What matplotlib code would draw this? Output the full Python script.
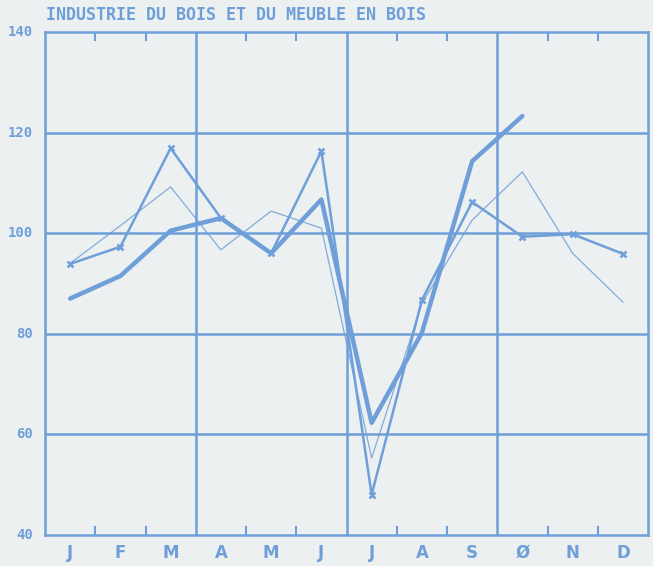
import matplotlib
matplotlib.use("Agg")
from matplotlib import pyplot as plt

# Monthly index values.
months = ["J", "F", "M", "A", "M", "J", "J", "A", "S", "Ø", "N", "D"]
current_year = [87, 91.5, 100.5, 103, 96, 106.7, 62.3, 80.2, 114.3, 123.3]
previous_year = [93.9, 97.3, 116.9, 103, 96, 116.3, 48, 86.7, 106.2, 99.3, 99.8, 95.9]
older_year = [94, 101.5, 109.2, 96.7, 104.4, 101, 55.3, 86, 102.6, 112.2, 96, 86.3]
y_ticks = [40, 60, 80, 100, 120, 140]
title = "INDUSTRIE DU BOIS ET DU MEUBLE EN BOIS"

BLUE = "#6e9fd9"
PAPER = "#edf0f1"
MONO = "DejaVu Sans Mono"

fig = plt.figure(figsize=(6.53, 5.66), dpi=100)
fig.patch.set_facecolor(PAPER)
ax = fig.add_axes([45 / 653, 31 / 566, 603 / 653, 503 / 566])
ax.set_facecolor(PAPER)
ax.set_xlim(-0.5, 11.5)
ax.set_ylim(40, 140)

# Grid: horizontal every 20, vertical at quarter boundaries.
for v in y_ticks[1:-1]:
    ax.axhline(v, color=BLUE, lw=1.8, zorder=1)
for q in [2.5, 5.5, 8.5]:
    ax.axvline(q, color=BLUE, lw=1.8, zorder=1)
for s in ax.spines.values():
    s.set_color(BLUE)
    s.set_linewidth(1.8)

# Small inward ticks at month boundaries.
for b in [0.5, 1.5, 3.5, 4.5, 6.5, 7.5, 9.5, 10.5]:
    ax.plot([b, b], [40, 41.6], color=BLUE, lw=1.5, zorder=1)
    ax.plot([b, b], [138.4, 140], color=BLUE, lw=1.5, zorder=1)

x = list(range(12))
ax.plot(x, older_year, color=BLUE, lw=0.9, alpha=0.85, zorder=2)
ax.plot(x, previous_year, color=BLUE, lw=1.8, marker="x", ms=5, mew=1.8, zorder=3)
ax.plot(x[:len(current_year)], current_year, color=BLUE, lw=3.2,
        solid_capstyle="round", solid_joinstyle="round", zorder=4)

ax.set_xticks([])
ax.set_yticks([])
for i, m in enumerate(months):
    ax.text(i, 36.4, m, color=BLUE, fontsize=12, fontweight="bold", ha="center",
            va="center", fontfamily="DejaVu Sans", clip_on=False)
for v in y_ticks:
    ax.text(-0.74, v, str(v), color=BLUE, fontsize=10, fontweight="bold",
            fontfamily=MONO, ha="right", va="center", clip_on=False)

fig.text(46 / 653, 1 - 15 / 566, title, color=BLUE, fontsize=12,
         fontweight="bold", fontfamily=MONO, ha="left", va="center")

fig.savefig("out.png", dpi=100, facecolor=PAPER)
